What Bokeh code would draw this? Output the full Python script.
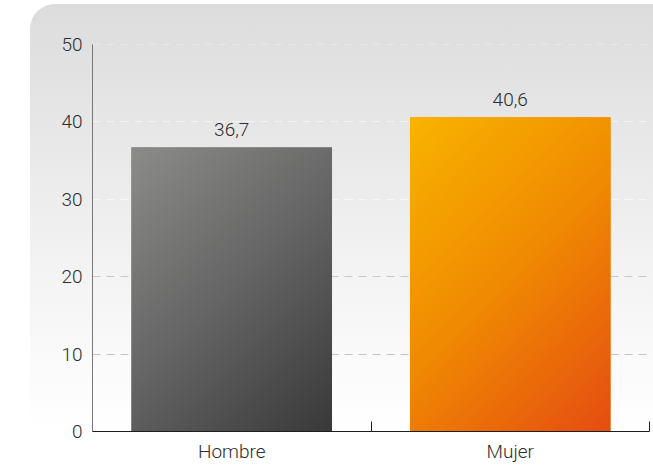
import numpy as np
from bokeh.plotting import figure
from bokeh.models import FixedTicker, Range1d
from bokeh.core.properties import value
from bokeh.embed import file_html
from bokeh.resources import INLINE

# ---- data ----
categories = ["Hombre", "Mujer"]
values = [36.7, 40.6]
value_labels = ["36,7", "40,6"]
y_ticks = [0, 10, 20, 30, 40, 50]
grid_levels = [10, 20, 30, 40, 50]

# ---- styles ----
grid_colors = ["#c4c4c4", "#c8c8c8", "#f8f8f8", "#f3f3f3", "#eeeeee"]
bar_stops = [
    [(0.0, (0x8c, 0x8c, 0x8a)), (0.5, (0x65, 0x65, 0x65)), (1.0, (0x39, 0x39, 0x39))],
    [(0.0, (0xf9, 0xb4, 0x00)), (0.5, (0xf0, 0x8a, 0x02)), (1.0, (0xe5, 0x4d, 0x12))],
]
bar_base = ["#646464", "#f08a02"]
FONT = "Roboto Light"
TXT = "#2e2e2e"
BAR_W = 0.72

W, H = 623, 461
p = figure(width=W, height=H, output_backend="svg", toolbar_location=None,
           x_range=Range1d(0, len(categories)), y_range=Range1d(0, 50),
           min_border_left=62, min_border_right=4, min_border_top=40, min_border_bottom=33,
           border_fill_color=None, background_fill_color=None, outline_line_color=None)
p.title.visible = False
p.styles = {
    "position": "absolute", "left": "30px", "top": "4px",
    "background": "linear-gradient(to bottom, #dcdcdc 0%, #f4f4f4 60%, #ffffff 92%)",
    "border-top-left-radius": "25px",
    "border-top-right-radius": "0px",
}
p.grid.visible = False

xs = np.arange(len(categories)) + 0.5

# dashed horizontal gridlines
p.hspan(y=grid_levels, line_color=grid_colors, line_width=1, line_dash="8 6")

# bars (base) + gradient images
p.vbar(x=xs, top=values, width=BAR_W, bottom=0, fill_color=bar_base, line_color=None)


def grad_image(stops, aspect, n=160):
    rows = cols = n
    u = (np.arange(cols) + 0.5) / cols               # left -> right
    v = 1 - (np.arange(rows) + 0.5) / rows           # row 0 is bottom -> v from top
    U, V = np.meshgrid(u, v)
    t = (U * 1.0 + V * aspect) / (1.0 + aspect)
    img = np.zeros((rows, cols, 4), dtype=np.uint8)
    pos = [s[0] for s in stops]
    for ch in range(3):
        img[..., ch] = np.interp(t, pos, [s[1][ch] for s in stops]).astype(np.uint8)
    img[..., 3] = 255
    return img.view(dtype=np.uint32).reshape((rows, cols))


imgs = [grad_image(bar_stops[i], values[i] / 50 * 388 / 200) for i in range(len(categories))]
p.image_rgba(image=imgs, x=list(xs - BAR_W / 2), y=[0] * len(values),
             dw=[BAR_W] * len(values), dh=values)

# value labels
p.text(x=xs, y=values, text=value_labels, text_align="center", text_baseline="alphabetic",
       y_offset=-18, text_font=value(FONT), text_font_size="19px", text_color=TXT)

# x axis
xa = p.xaxis[0]
xa.ticker = FixedTicker(ticks=list(xs), minor_ticks=list(range(len(categories) + 1)))
xa.major_label_overrides = {float(x): c for x, c in zip(xs, categories)}
xa.major_tick_in = 0
xa.major_tick_out = 0
xa.minor_tick_in = 10
xa.minor_tick_out = 0
xa.minor_tick_line_color = "#222222"
xa.axis_line_color = "#1e1e1e"
xa.axis_line_width = 1.2
xa.major_label_standoff = 8
xa.major_label_text_font = FONT
xa.major_label_text_font_size = "19px"
xa.major_label_text_color = TXT

# y axis
ya = p.yaxis[0]
ya.ticker = FixedTicker(ticks=y_ticks)
ya.major_tick_in = 0
ya.major_tick_out = 0
ya.minor_tick_in = 0
ya.minor_tick_out = 0
ya.axis_line_color = "#777777"
ya.major_label_standoff = 10
ya.major_label_text_font = FONT
ya.major_label_text_font_size = "19px"
ya.major_label_text_color = TXT

open("out.html", "w").write(file_html(p, INLINE))
